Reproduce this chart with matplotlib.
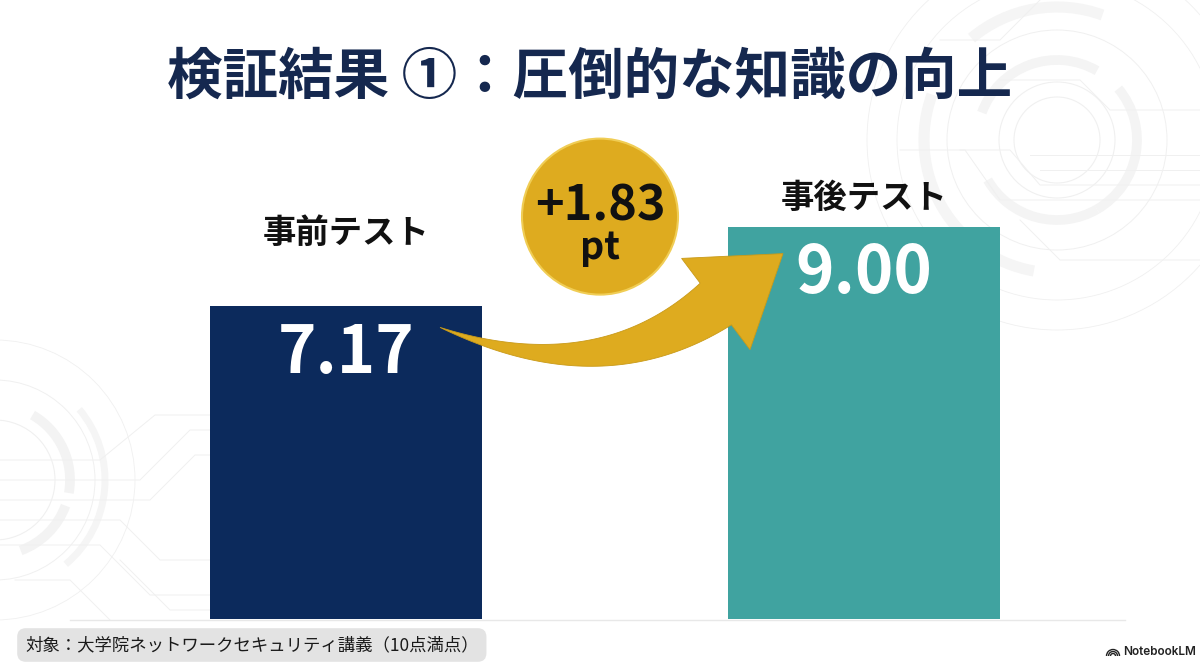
import numpy as np
import matplotlib
matplotlib.use('Agg')
import matplotlib.pyplot as plt
from matplotlib.patches import Polygon, Ellipse, Circle, Arc

plt.rcParams['font.family'] = ['Noto Sans CJK JP', 'DejaVu Sans']

# data
test_labels = ['事前テスト', '事後テスト']
scores = [7.17, 9.00]
bar_colors = ['#0c2a5c', '#40a3a0']
title = '検証結果 ①：圧倒的な知識の向上'
footnote = '対象：大学院ネットワークセキュリティ講義（10点満点）'
gain = scores[1] - scores[0]

# layout (pixels of a 1200x670 canvas)
W, H = 1200, 670
x_px0, x_px_per = 346, 518      # bar centre of first bar, spacing
base_px, y_px_per = 619, 43.6   # baseline (from top), px per point
label_gap = [73, 28]            # label centre above bar top, px

fig = plt.figure(figsize=(12, 6.7), dpi=100)
fig.patch.set_facecolor('white')

# faint circuit decoration in the background
bg = fig.add_axes([0, 0, 1, 1], zorder=0)
bg.set_xlim(0, W)
bg.set_ylim(H, 0)
bg.axis('off')
dec = '#f0f0f0'
cx, cy = 1057, 140
for r, lw in [(43, 0.8), (58, 0.8), (110, 0.7), (160, 0.6), (190, 0.6)]:
    bg.add_patch(Circle((cx, cy), r, fill=False, ec=dec, lw=lw))
for t1, t2 in [(200, 300), (320, 420), (60, 150)]:
    bg.add_patch(Arc((cx, cy), 160, 160, theta1=t1, theta2=t2, ec='#f4f4f4', lw=7))
for t1, t2 in [(100, 200), (230, 290)]:
    bg.add_patch(Arc((cx, cy), 266, 266, theta1=t1, theta2=t2, ec='#f5f5f5', lw=8))
for pts in [[(1000, 80), (1080, 80), (1110, 110), (1200, 110)],
            [(1030, 155), (1200, 155)], [(1040, 170), (1200, 170)],
            [(960, 150), (1010, 150), (1040, 185), (1200, 185)],
            [(900, 150), (965, 150), (1000, 200), (1200, 200)],
            [(1020, 220), (1060, 260), (1200, 260)],
            [(940, 40), (1000, 40), (1040, 0)]]:
    xs, ys = zip(*pts)
    bg.plot(xs, ys, color=dec, lw=0.7)
bcx, bcy = -5, 480
for r, lw in [(60, 0.8), (100, 0.7), (140, 0.6)]:
    bg.add_patch(Circle((bcx, bcy), r, fill=False, ec=dec, lw=lw))
for t1, t2 in [(-60, 10), (20, 70)]:
    bg.add_patch(Arc((bcx, bcy), 150, 150, theta1=t1, theta2=t2, ec='#f3f3f3', lw=7))
bg.add_patch(Arc((bcx, bcy), 220, 220, theta1=-40, theta2=50, ec='#f5f5f5', lw=5))
for pts in [[(0, 460), (100, 460), (155, 415), (210, 415)],
            [(0, 480), (140, 480), (190, 430), (210, 430)],
            [(0, 500), (150, 500), (195, 455), (210, 455)],
            [(0, 520), (120, 520), (160, 560), (210, 560)],
            [(0, 545), (100, 545), (150, 595), (210, 595)],
            [(15, 580), (70, 580), (110, 620)],
            [(120, 560), (170, 610), (210, 610)]]:
    xs, ys = zip(*pts)
    bg.plot(xs, ys, color=dec, lw=0.7)
bg.plot([70, 1125], [base_px + 1, base_px + 1], color='#e8e8e8', lw=1.0)

# main axes, full canvas, data scale fixed by the layout
ax = fig.add_axes([0, 0, 1, 1], zorder=1)
ax.patch.set_alpha(0)
ax.set_xlim(-x_px0 / x_px_per, (W - x_px0) / x_px_per)
ax.set_ylim((base_px - H) / y_px_per, base_px / y_px_per)
ax.axis('off')

xpos = np.arange(len(scores))
bw = 272 / x_px_per
ax.bar(xpos, scores, width=bw, color=bar_colors, zorder=2)

for i, (lab, v) in enumerate(zip(test_labels, scores)):
    ax.annotate(f'{v:.2f}', (xpos[i], v), xytext=(0, -48), textcoords='offset points',
                ha='center', va='baseline', color='white', fontsize=47,
                fontweight='bold', zorder=4)
    ax.annotate(lab, (xpos[i], v), xytext=(0, label_gap[i] * 0.72), textcoords='offset points',
                ha='center', va='center', color='#111111', fontsize=24,
                fontweight='bold', zorder=4)

# curved gain arrow, anchored to the bar tops (display pixels)
tr = ax.transData
left_tr = tr.transform((xpos[0] + bw / 2, scores[0]))
right_tl = tr.transform((xpos[1] - bw / 2, scores[1]))
tail = left_tr + np.array([-42, -21])
tip = right_tl + np.array([55, -27])
d = np.array([0.8, 0.6])
nrm = np.array([-d[1], d[0]])
hb = tip - 84 * d
ctrl = hb - 145 * d
t = np.linspace(0, 1, 60)[:, None]
curve = (1 - t) ** 2 * tail + 2 * (1 - t) * t * ctrl + t ** 2 * hb
tang = 2 * (1 - t) * (ctrl - tail) + 2 * t * (hb - ctrl)
tang = tang / np.linalg.norm(tang, axis=1)[:, None]
nn = np.column_stack([-tang[:, 1], tang[:, 0]])
half = 26 * t
upper = curve + half * nn
lower = curve - half * nn
shape = np.vstack([upper, [hb + 57 * nrm, tip, hb - 57 * nrm], lower[::-1]])
ax.add_patch(Polygon(tr.inverted().transform(shape), closed=True,
                     fc='#deab1f', ec='#c99a18', lw=0.6, zorder=3))

# gain badge
bc = tr.inverted().transform(
    tr.transform(((xpos[0] + xpos[1]) / 2, scores[1])) + np.array([-5, 10]))
r = 78
ax.add_patch(Ellipse(bc, 2 * r / x_px_per, 2 * r / y_px_per,
                     fc='#deab1f', ec='#f0cd55', lw=1.5, zorder=3))
ax.annotate(f'+{gain:.2f}', bc, xytext=(0, -4 * 0.72), textcoords='offset points',
            ha='center', va='baseline', fontsize=35, fontweight='bold',
            color='#111111', zorder=4)
ax.annotate('pt', bc, xytext=(0, -42 * 0.72), textcoords='offset points',
            ha='center', va='baseline', fontsize=27, fontweight='bold',
            color='#111111', zorder=4)

# title and footer
fig.text(0.491, 1 - 78 / H, title, ha='center', va='center', fontsize=40,
         fontweight='bold', color='#15284f', zorder=5)
fig.text(25 / W, 1 - 645 / H, footnote, ha='left', va='center', fontsize=12.5,
         color='#1a1a1a', zorder=5,
         bbox=dict(boxstyle='round,pad=0.45,rounding_size=0.5', fc='#e3e3e3', ec='none'))

for rr in [2.5, 4.5, 6.5]:
    bg.add_patch(Arc((1113, 656), 2 * rr, 2 * rr, theta1=180, theta2=360, ec='#222222', lw=1.0))
fig.text(1123 / W, 1 - 652 / H, 'NotebookLM', ha='left', va='center', fontsize=8.5,
         fontweight='semibold', family=['Inter', 'DejaVu Sans'], color='#222222', zorder=5)

fig.savefig('out.png', dpi=100)
